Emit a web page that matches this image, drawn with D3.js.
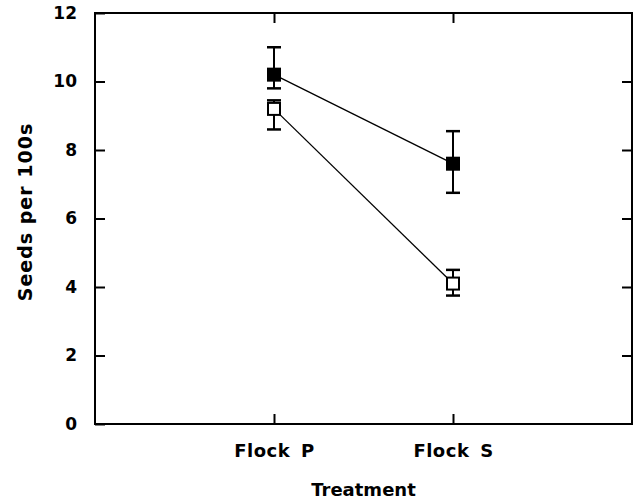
<!DOCTYPE html>
<html>
<head>
<meta charset="utf-8">
<script src="https://cdn.jsdelivr.net/npm/d3@7"></script>
<style>
  body { margin: 0; background: #fff; }
  text { font-family: "DejaVu Sans", sans-serif; font-weight: bold; fill: #000; }
</style>
</head>
<body>
<svg id="chart" width="633" height="500"></svg>
<script>
// categories and values
var treatments = ["Flock P", "Flock S"];
var filledMean = [10.2, 7.6];
var filledLow = [9.8, 6.75];
var filledHigh = [11.0, 8.55];
var openMean = [9.2, 4.1];
var openLow = [8.6, 3.75];
var openHigh = [9.45, 4.5];
var yTicks = [0, 2, 4, 6, 8, 10, 12];

var svg = d3.select("#chart"),
    plotLeft = 95, plotRight = 632, plotTop = 13, plotBottom = 424;

var xScale = d3.scaleLinear().domain([0, 3]).range([plotLeft, plotRight]);
var yScale = d3.scaleLinear().domain([0, 12]).range([plotBottom, plotTop]);

// axes with inward ticks
svg.append("g").attr("transform", "translate(" + plotLeft + ",0)")
    .call(d3.axisLeft(yScale).tickValues(yTicks).tickSize(-10).tickPadding(18))
    .call(g => g.select(".domain").remove())
    .selectAll("text").style("font-size", "17px");

svg.append("g").attr("transform", "translate(" + plotRight + ",0)")
    .call(d3.axisRight(yScale).tickValues(yTicks.slice(1, -1)).tickSize(-10).tickFormat(""))
    .call(g => g.select(".domain").remove());

svg.append("g").attr("transform", "translate(0," + plotBottom + ")")
    .call(d3.axisBottom(xScale).tickValues([1, 2]).tickSize(-10).tickPadding(20)
        .tickFormat((d, i) => treatments[i]))
    .call(g => g.select(".domain").remove())
    .selectAll("text").style("font-size", "18px").style("letter-spacing", "0.5px").style("word-spacing", "4px");

svg.append("g").attr("transform", "translate(0," + plotTop + ")")
    .call(d3.axisTop(xScale).tickValues([1, 2]).tickSize(-10).tickFormat(""))
    .call(g => g.select(".domain").remove());

svg.selectAll(".tick line").attr("stroke", "#000").attr("stroke-width", 2);

svg.append("rect")
    .attr("x", plotLeft).attr("y", plotTop)
    .attr("width", plotRight - plotLeft).attr("height", plotBottom - plotTop)
    .attr("fill", "none").attr("stroke", "#000").attr("stroke-width", 2);

// axis titles
svg.append("text")
    .attr("x", (plotLeft + plotRight) / 2).attr("y", 496)
    .attr("text-anchor", "middle")
    .style("font-size", "18px")
    .text("Treatment");

svg.append("text")
    .attr("transform", "translate(32," + 212 + ") rotate(-90)")
    .attr("text-anchor", "middle")
    .style("font-size", "19px").style("letter-spacing", "1px")
    .text("Seeds per 100s");

var series = [
    {mean: openMean, low: openLow, high: openHigh, fill: "#fff"},
    {mean: filledMean, low: filledLow, high: filledHigh, fill: "#000"}
];

var line = d3.line().x((d, i) => xScale(i + 1)).y(d => yScale(d));

series.forEach(function(s) {
    var g = svg.append("g");
    g.append("path").datum(s.mean).attr("d", line)
        .attr("fill", "none").attr("stroke", "#000").attr("stroke-width", 1.3);

    var idx = d3.range(s.mean.length);
    g.selectAll(".err").data(idx).enter().append("line")
        .attr("x1", i => xScale(i + 1)).attr("x2", i => xScale(i + 1))
        .attr("y1", i => yScale(s.low[i])).attr("y2", i => yScale(s.high[i]))
        .attr("stroke", "#000").attr("stroke-width", 2);
    [s.low, s.high].forEach(function(arr) {
        g.selectAll(null).data(idx).enter().append("line")
            .attr("x1", i => xScale(i + 1) - 7).attr("x2", i => xScale(i + 1) + 7)
            .attr("y1", i => yScale(arr[i])).attr("y2", i => yScale(arr[i]))
            .attr("stroke", "#000").attr("stroke-width", 2.5);
    });

    g.selectAll(".pt").data(idx).enter().append("rect")
        .attr("x", i => xScale(i + 1) - 6).attr("y", i => yScale(s.mean[i]) - 6)
        .attr("width", 12).attr("height", 12)
        .attr("fill", s.fill).attr("stroke", "#000").attr("stroke-width", 2);
});
</script>
</body>
</html>
